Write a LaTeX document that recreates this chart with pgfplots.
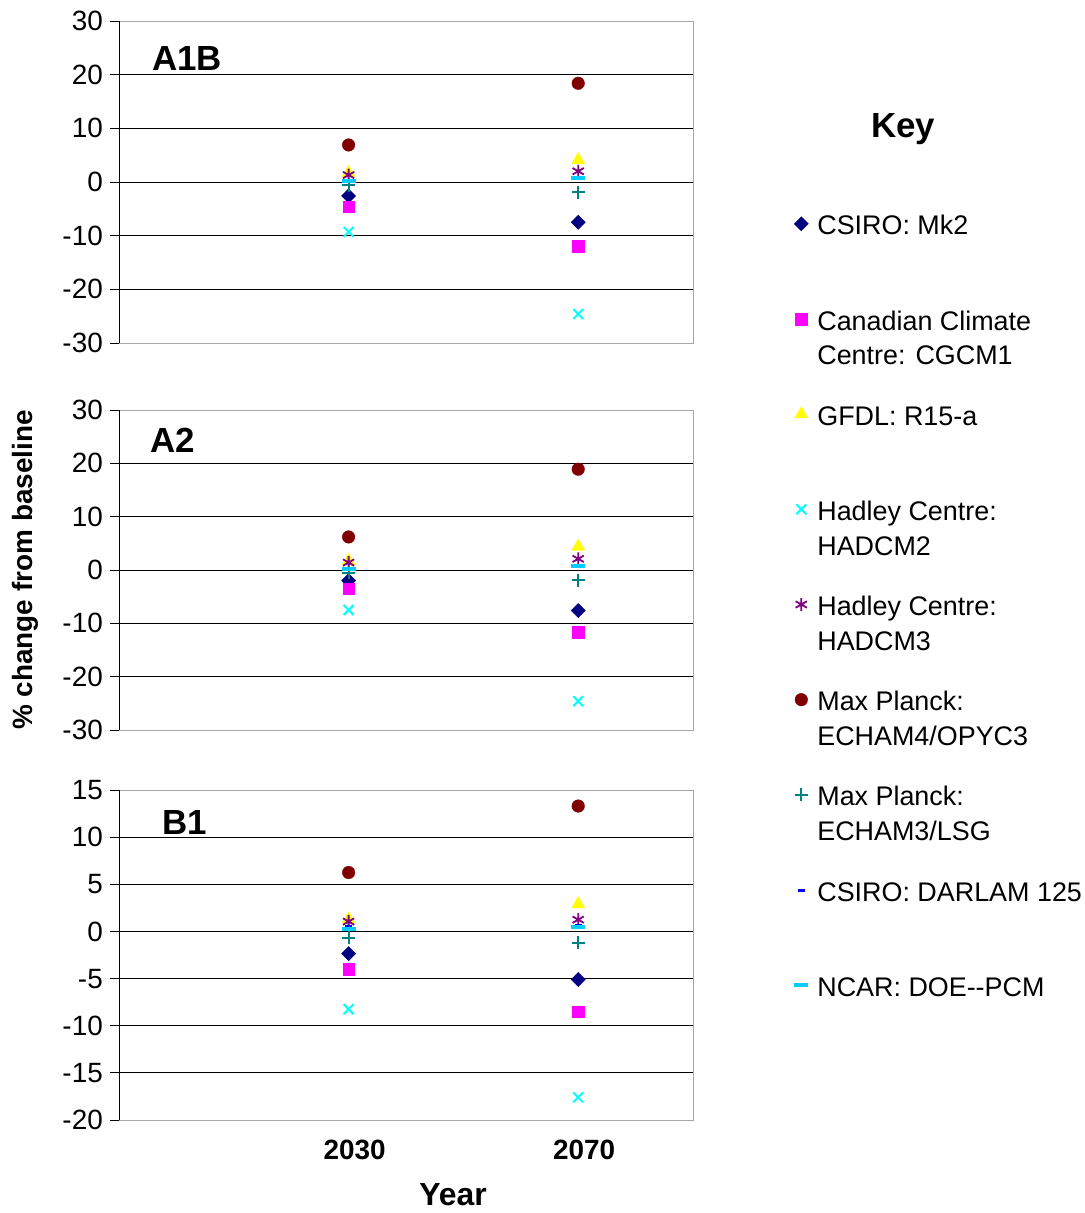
\documentclass[border=0pt]{standalone}
\usepackage{pgfplots}
\pgfplotsset{compat=1.18}
\usepackage{fontspec}
\setmainfont{Liberation Sans}
\definecolor{cNavy}{RGB}{0,0,128}
\definecolor{cMag}{RGB}{255,0,255}
\definecolor{cYel}{RGB}{255,255,0}
\definecolor{cCyan}{RGB}{0,255,255}
\definecolor{cPurp}{RGB}{128,0,128}
\definecolor{cDRed}{RGB}{128,0,0}
\definecolor{cTeal}{RGB}{0,128,128}
\definecolor{cBlue}{RGB}{0,0,255}
\definecolor{cSky}{RGB}{0,204,255}
\pgfplotsset{
  panel/.style={scale only axis, width=574bp, xmin=0, xmax=5,
    xtick={2,4}, xticklabels={}, major tick length=9bp, tick align=outside,
    ytick pos=left,
    ymajorgrids, grid style={black, line width=0.9bp},
    axis line style={draw=gray!70, line width=1bp},
    tick style={black, line width=0.9bp}, xtick style={draw=none},
    yticklabel style={font=\fontsize{28}{30}\selectfont, inner sep=0pt, xshift=-7bp},
    clip=false, anchor=north west},
  sA/.style={only marks, mark=square*, mark size=5bp, mark options={rotate=45, fill=cNavy, draw=cNavy}},
  sB/.style={only marks, mark=square*, mark size=5.8bp, mark options={fill=cMag, draw=cMag}},
  sC/.style={only marks, mark=triangle*, mark size=7.5bp, mark options={fill=cYel, draw=cYel}},
  sD/.style={only marks, mark=x, mark size=7bp, mark options={draw=cCyan, line width=2bp}},
  sE/.style={only marks, mark=asterisk, mark size=6.5bp, mark options={draw=cPurp, line width=1.8bp}},
  sF/.style={only marks, mark=*, mark size=6.3bp, mark options={fill=cDRed, draw=cDRed}},
  sG/.style={only marks, mark=+, mark size=6.5bp, mark options={draw=cTeal, line width=2bp}},
  sH/.style={only marks, mark=-, mark size=3.5bp, mark options={draw=cBlue, line width=3bp}},
  sI/.style={only marks, mark=-, mark size=7bp, mark options={draw=cSky, line width=4bp}},
}
\begin{document}
\begin{tikzpicture}
\path[use as bounding box] (0,0) rectangle (1085bp,-1213bp);
% Panel A1B
\begin{axis}[panel, at={(119bp,-21bp)}, height=322bp, ymin=-30, ymax=30,
  ytick={-30,-20,-10,0,10,20,30}, yticklabels={-30,-20,-10,0,10,20,30},
  legend cell align=left,
  legend style={draw=none, fill=none, inner sep=0pt, row sep=30.4bp, column sep=7bp,
    at={(axis description cs:1.176,0.4186)}, anchor=north west,
    font=\fontsize{27}{35}\selectfont, nodes={align=left, inner sep=2bp}},
  legend image code/.code={\draw[mark repeat=2,mark phase=2,yshift=17bp] plot coordinates {(0bp,0bp)(6bp,0bp)(12bp,0bp)};}]
\addplot[sA] coordinates {(2,-2.6) (4,-7.5)}; \addlegendentry{\strut CSIRO: Mk2\\\strut}
\addplot[sB] coordinates {(2,-4.6) (4,-12.0)}; \addlegendentry{\strut Canadian Climate\\\strut Centre: CGCM1}
\addplot[sC] coordinates {(2,1.7) (4,4.1)}; \addlegendentry{\strut GFDL: R15-a\\\strut}
\addplot[sD] coordinates {(2,-9.3) (4,-24.6)}; \addlegendentry{\strut Hadley Centre:\\\strut HADCM2}
\addplot[sE] coordinates {(2,1.3) (4,2.0)}; \addlegendentry{\strut Hadley Centre:\\\strut HADCM3}
\addplot[sF] coordinates {(2,6.9) (4,18.4)}; \addlegendentry{\strut Max Planck:\\\strut ECHAM4/OPYC3}
\addplot[sG] coordinates {(2,-0.6) (4,-1.9)}; \addlegendentry{\strut Max Planck:\\\strut ECHAM3/LSG}
\addplot[sH] coordinates {(2,0.3) (4,0.8)}; \addlegendentry{\strut CSIRO: DARLAM 125\\\strut}
\addplot[sI] coordinates {(2,0.25) (4,0.7)}; \addlegendentry{\strut NCAR: DOE-{}-PCM\\\strut}
\draw[black, line width=1bp] (rel axis cs:0,0) -- (rel axis cs:0,1);
\node[font=\bfseries\fontsize{35}{40}\selectfont] at (axis cs:0.592,23.1) {A1B};
\end{axis}
% Panel A2
\begin{axis}[panel, at={(119bp,-410bp)}, height=320bp, ymin=-30, ymax=30,
  ytick={-30,-20,-10,0,10,20,30}, yticklabels={-30,-20,-10,0,10,20,30}]
\addplot[sA] coordinates {(2,-2.0) (4,-7.6)};
\addplot[sB] coordinates {(2,-3.5) (4,-11.7)};
\addplot[sC] coordinates {(2,1.7) (4,4.4)};
\addplot[sD] coordinates {(2,-7.5) (4,-24.6)};
\addplot[sE] coordinates {(2,1.4) (4,2.1)};
\addplot[sF] coordinates {(2,6.2) (4,18.9)};
\addplot[sG] coordinates {(2,-0.55) (4,-1.9)};
\addplot[sH] coordinates {(2,0.3) (4,0.9)};
\addplot[sI] coordinates {(2,0.25) (4,0.75)};
\draw[black, line width=1bp] (rel axis cs:0,0) -- (rel axis cs:0,1);
\node[font=\bfseries\fontsize{35}{40}\selectfont] at (axis cs:0.47,24.4) {A2};
\end{axis}
% Panel B1
\begin{axis}[panel, at={(119bp,-790bp)}, height=330bp, ymin=-20, ymax=15,
  ytick={-20,-15,-10,-5,0,5,10,15}, yticklabels={-20,-15,-10,-5,0,5,10,15},
  xticklabels={2030,2070},
  xticklabel style={font=\bfseries\fontsize{28}{30}\selectfont, inner sep=0pt, xshift=6bp, yshift=-11bp}]
\addplot[sA] coordinates {(2,-2.35) (4,-5.1)};
\addplot[sB] coordinates {(2,-4.0) (4,-8.5)};
\addplot[sC] coordinates {(2,1.3) (4,2.9)};
\addplot[sD] coordinates {(2,-8.25) (4,-17.6)};
\addplot[sE] coordinates {(2,1.05) (4,1.25)};
\addplot[sF] coordinates {(2,6.25) (4,13.3)};
\addplot[sG] coordinates {(2,-0.65) (4,-1.2)};
\addplot[sH] coordinates {(2,0.5) (4,0.6)};
\addplot[sI] coordinates {(2,0.25) (4,0.5)};
\draw[black, line width=1bp] (rel axis cs:0,0) -- (rel axis cs:0,1);
\node[font=\bfseries\fontsize{35}{40}\selectfont] at (axis cs:0.575,11.6) {B1};
\end{axis}
\node[rotate=90, font=\bfseries\fontsize{28}{30}\selectfont] at (25bp,-570bp) {\% change from baseline};
\node[font=\bfseries\fontsize{32}{36}\selectfont] at (453bp,-1195bp) {Year};
\node[font=\bfseries\fontsize{35}{40}\selectfont] at (903bp,-129bp) {Key};
\end{tikzpicture}
\end{document}
